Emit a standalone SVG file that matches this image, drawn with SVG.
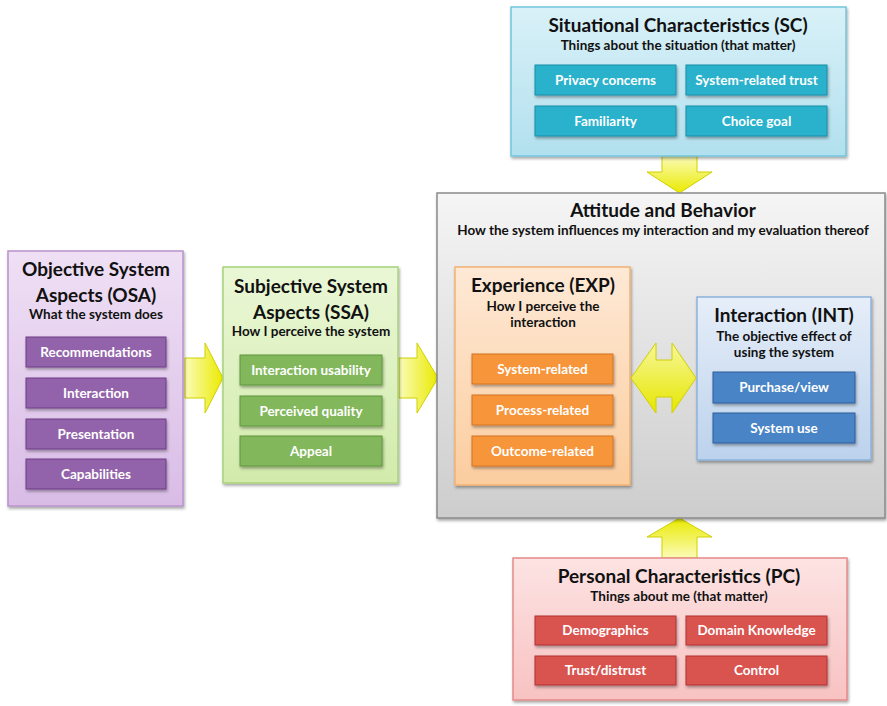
<svg xmlns="http://www.w3.org/2000/svg" width="887" height="706" viewBox="0 0 887 706">
<defs>
<linearGradient id="gOSA" x1="0" y1="0" x2="0" y2="1"><stop offset="0" stop-color="#efe0f5"/><stop offset="1" stop-color="#d9bce6"/></linearGradient>
<linearGradient id="gSSA" x1="0" y1="0" x2="0" y2="1"><stop offset="0" stop-color="#eaf7d6"/><stop offset="1" stop-color="#d2ebab"/></linearGradient>
<linearGradient id="gSC" x1="0" y1="0" x2="0" y2="1"><stop offset="0" stop-color="#d9f1f8"/><stop offset="1" stop-color="#b2e0ee"/></linearGradient>
<linearGradient id="gPC" x1="0" y1="0" x2="0" y2="1"><stop offset="0" stop-color="#fde3e3"/><stop offset="1" stop-color="#f8c2c2"/></linearGradient>
<linearGradient id="gEXP" x1="0" y1="0" x2="0" y2="1"><stop offset="0" stop-color="#fee9d6"/><stop offset="1" stop-color="#fbcd9f"/></linearGradient>
<linearGradient id="gINT" x1="0" y1="0" x2="0" y2="1"><stop offset="0" stop-color="#e6eef9"/><stop offset="1" stop-color="#bcd2ec"/></linearGradient>
<linearGradient id="gAB" x1="0" y1="0" x2="0" y2="1"><stop offset="0" stop-color="#f5f5f5"/><stop offset="1" stop-color="#cdcdcd"/></linearGradient>
<linearGradient id="gArrH" x1="0" y1="0" x2="1" y2="0"><stop offset="0" stop-color="#fbfbb8"/><stop offset="1" stop-color="#eaea00"/></linearGradient>
<linearGradient id="gArrD" x1="0" y1="0" x2="0" y2="1"><stop offset="0" stop-color="#fbfbb8"/><stop offset="1" stop-color="#eaea00"/></linearGradient>
<linearGradient id="gArrU" x1="0" y1="1" x2="0" y2="0"><stop offset="0" stop-color="#fbfbb8"/><stop offset="1" stop-color="#eaea00"/></linearGradient>
<linearGradient id="gArrB" x1="0" y1="0" x2="0" y2="1"><stop offset="0" stop-color="#f7f79a"/><stop offset="1" stop-color="#e6e600"/></linearGradient>
<filter id="sh" x="-10%" y="-10%" width="120%" height="120%"><feDropShadow dx="1" dy="2" stdDeviation="1.5" flood-color="#000" flood-opacity="0.35"/></filter>
</defs>
<style>
text{font-family:"Lato","Open Sans","Liberation Sans",sans-serif;font-weight:bold;text-anchor:middle}
.t{font-size:19px;fill:#111}
.s{font-size:13.5px;fill:#111}
.i{font-size:13.5px;fill:#fff}
.arr{stroke:#d0d000;stroke-width:1}
</style>
<g id="connectors">
<path class="arr" fill="url(#gArrH)" d="M185,358 H205 V343 L223,378 L205,413 V398 H185 Z"/>
<path class="arr" fill="url(#gArrH)" d="M399,358 H417 V343 L438,378 L417,413 V398 H399 Z"/>
<path class="arr" fill="url(#gArrD)" d="M662,156 H697 V172 H712 L679.5,193 L647,172 H662 Z"/>
<path class="arr" fill="url(#gArrU)" d="M662,558 H697 V537 H712 L679.5,518 L647,537 H662 Z"/>
</g>
<g id="AB">
<rect x="437" y="193" width="448" height="325" fill="url(#gAB)" stroke="#8a8a8a" stroke-width="1.5" filter="url(#sh)"/>
<text class="t" x="663" y="217">Attitude and Behavior</text>
<text class="s" x="663" y="235">How the system influences my interaction and my evaluation thereof</text>
</g>
<g id="OSA">
<rect x="8" y="251" width="175" height="255" fill="url(#gOSA)" stroke="#b993cc" stroke-width="1.5" filter="url(#sh)"/>
<text class="t" x="96" y="276">Objective System</text>
<text class="t" x="96" y="302">Aspects (OSA)</text>
<text class="s" x="96" y="319">What the system does</text>
<g fill="#9263aa" stroke="#6e3f88" stroke-width="1" filter="url(#sh)">
<rect x="26" y="337" width="140" height="30"/><rect x="26" y="378" width="140" height="30"/><rect x="26" y="419" width="140" height="30"/><rect x="26" y="459" width="140" height="30"/>
</g>
<text class="i" x="96" y="357">Recommendations</text>
<text class="i" x="96" y="398">Interaction</text>
<text class="i" x="96" y="439">Presentation</text>
<text class="i" x="96" y="479">Capabilities</text>
</g>
<g id="SSA">
<rect x="223" y="267" width="175" height="216" fill="url(#gSSA)" stroke="#a8d27c" stroke-width="1.5" filter="url(#sh)"/>
<text class="t" x="311" y="293">Subjective System</text>
<text class="t" x="311" y="319">Aspects (SSA)</text>
<text class="s" x="311" y="336">How I perceive the system</text>
<g fill="#82b75c" stroke="#5f973d" stroke-width="1" filter="url(#sh)">
<rect x="240" y="355" width="142" height="30"/><rect x="240" y="396" width="142" height="30"/><rect x="240" y="436" width="142" height="30"/>
</g>
<text class="i" x="311" y="375">Interaction usability</text>
<text class="i" x="311" y="416">Perceived quality</text>
<text class="i" x="311" y="456">Appeal</text>
</g>
<g id="SC">
<rect x="511" y="7" width="335" height="149" fill="url(#gSC)" stroke="#72c6dc" stroke-width="1.5" filter="url(#sh)"/>
<text class="t" x="678" y="32">Situational Characteristics (SC)</text>
<text class="s" x="678" y="50">Things about the situation (that matter)</text>
<g fill="#2cb2cd" stroke="#1a8ea8" stroke-width="1" filter="url(#sh)">
<rect x="535" y="65" width="141" height="30"/><rect x="686" y="65" width="141" height="30"/><rect x="535" y="106" width="141" height="30"/><rect x="686" y="106" width="141" height="30"/>
</g>
<text class="i" x="605.5" y="85">Privacy concerns</text>
<text class="i" x="756.5" y="85">System-related trust</text>
<text class="i" x="605.5" y="126">Familiarity</text>
<text class="i" x="756.5" y="126">Choice goal</text>
</g>
<g id="PC">
<rect x="513" y="558" width="334" height="142" fill="url(#gPC)" stroke="#e48a8a" stroke-width="1.5" filter="url(#sh)"/>
<text class="t" x="679" y="583">Personal Characteristics (PC)</text>
<text class="s" x="679" y="601">Things about me (that matter)</text>
<g fill="#d9534f" stroke="#b03434" stroke-width="1" filter="url(#sh)">
<rect x="535" y="616" width="141" height="29"/><rect x="686" y="616" width="141" height="29"/><rect x="535" y="656" width="141" height="29"/><rect x="686" y="656" width="141" height="29"/>
</g>
<text class="i" x="605.5" y="635">Demographics</text>
<text class="i" x="756.5" y="635">Domain Knowledge</text>
<text class="i" x="605.5" y="675">Trust/distrust</text>
<text class="i" x="756.5" y="675">Control</text>
</g>
<g id="EXP">
<rect x="455" y="267" width="175" height="218" fill="url(#gEXP)" stroke="#f4b272" stroke-width="1.5" filter="url(#sh)"/>
<text class="t" x="543" y="292">Experience (EXP)</text>
<text class="s" x="543" y="311">How I perceive the</text>
<text class="s" x="543" y="327">interaction</text>
<g fill="#f7953a" stroke="#d67520" stroke-width="1" filter="url(#sh)">
<rect x="472" y="354" width="141" height="30"/><rect x="472" y="395" width="141" height="30"/><rect x="472" y="436" width="141" height="30"/>
</g>
<text class="i" x="542.5" y="374">System-related</text>
<text class="i" x="542.5" y="415">Process-related</text>
<text class="i" x="542.5" y="456">Outcome-related</text>
</g>
<g id="INT">
<rect x="697" y="297" width="174" height="163" fill="url(#gINT)" stroke="#8eb2dc" stroke-width="1.5" filter="url(#sh)"/>
<text class="t" x="784" y="322">Interaction (INT)</text>
<text class="s" x="784" y="341">The objective effect of</text>
<text class="s" x="784" y="357">using the system</text>
<g fill="#4a84c6" stroke="#2d5f9e" stroke-width="1" filter="url(#sh)">
<rect x="713" y="372" width="142" height="31"/><rect x="713" y="413" width="142" height="30"/>
</g>
<text class="i" x="784" y="392">Purchase/view</text>
<text class="i" x="784" y="433">System use</text>
</g>
<g id="connector-bidir">
<path class="arr" fill="url(#gArrB)" d="M631,378 L656,343 V360 H672 V343 L696,378 L672,413 V397 H656 V413 Z"/>
</g>
</svg>
